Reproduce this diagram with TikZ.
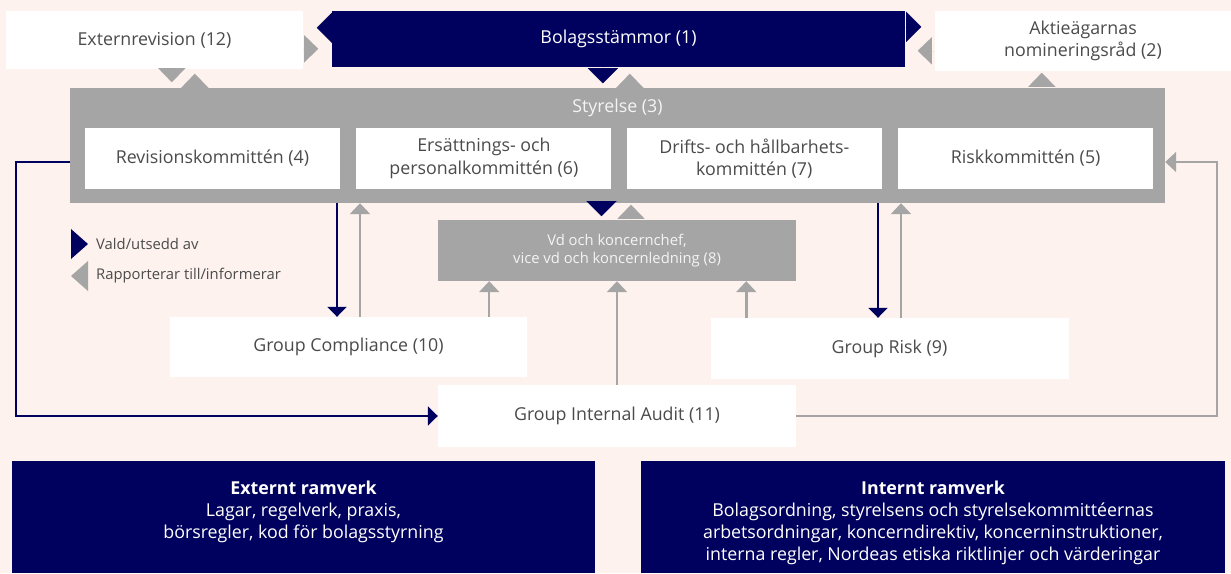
\documentclass[tikz,border=0pt]{standalone}
\usepackage{fontspec}
\setmainfont{Open Sans}
\usetikzlibrary{arrows.meta, positioning, backgrounds}
\definecolor{marin}{HTML}{00005E}
\definecolor{gra}{HTML}{A5A5A5}
\definecolor{bakgrund}{HTML}{FDF2ED}
\definecolor{textgra}{HTML}{4B4B4B}
\definecolor{ljus}{HTML}{F4F4F4}
\tikzset{
  ruta/.style={rectangle, fill=white, text=textgra, inner sep=0pt, align=center,
    font=\fontsize{17.8}{22.5}\selectfont},
  rutamork/.style={ruta, fill=marin, text=white},
  rutagra/.style={ruta, fill=gra, text=ljus},
  kommitte/.style={ruta, minimum width=255, minimum height=61},
  stylabel/.style={anchor=center, yshift=-20, text=ljus, inner sep=0pt,
    font=\fontsize{17.8}{22.5}\selectfont},
  ramtext/.style={anchor=north, yshift=-20, text=white, inner sep=0pt,
    align=center, font=\fontsize{17.8}{22}\selectfont},
  forklaring/.style={text=textgra, inner sep=0pt, font=\fontsize{14.8}{18}\selectfont},
  valdpil/.style={draw=marin, line width=2, -{Triangle[length=10, width=19]}},
  rappil/.style={draw=gra, line width=2.5, -{Triangle[length=11, width=20]}},
  valdspets/.style={draw=marin, line width=0.01, -{Triangle[length=15, width=30]}},
  rapspets/.style={draw=gra, line width=0.01, -{Triangle[length=14, width=27]}},
}
\begin{document}
\begin{tikzpicture}[x=1pt, y=-1pt]
  \useasboundingbox (0,0) rectangle (1231,573);
  \fill[bakgrund] (0,0) rectangle (1231,573);

  % översta raden
  \node[ruta, minimum width=297, minimum height=58] (extern) at (154.5,40) {Externrevision (12)};
  \node[rutamork, minimum width=573, minimum height=56] (bolag) at (618.5,39) {Bolagsstämmor (1)};
  \node[ruta, minimum width=296, minimum height=60] (nomin) at (1083,41) {Aktieägarnas\\nomineringsråd (2)};

  % styrelsen med utskotten
  \node[rutagra, minimum width=1095, minimum height=115,
        label={[stylabel]north:Styrelse (3)}] (styrelse) at (617.5,145.5) {};
  \node[kommitte] (revision) at (212.5,158.5) {Revisionskommittén (4)};
  \node[kommitte, right=16pt of revision] (ersatt) {Ersättnings- och\\personalkommittén (6)};
  \node[kommitte, right=15pt of ersatt] (drift) {Drifts- och hållbarhets-\\kommittén (7)};
  \node[kommitte, right=16pt of drift] (risk) {Riskkommittén (5)};

  \node[rutagra, font=\fontsize{14.8}{18}\selectfont, minimum width=358, minimum height=61]
    (vd) at (617,250.5) {Vd och koncernchef,\\vice vd och koncernledning (8)};
  \node[ruta, minimum width=357, minimum height=60] (compliance) at (348.5,347) {Group Compliance (10)};
  \node[ruta, minimum width=358, minimum height=61] (grouprisk) at (889.5,348.5) {Group Risk (9)};
  \node[ruta, minimum width=358, minimum height=62] (audit) at (617,416) {Group Internal Audit (11)};

  % ramverk
  \node[rutamork, minimum width=583, minimum height=112,
        label={[ramtext]north:{\textbf{Externt ramverk}\\Lagar, regelverk, praxis,\\börsregler, kod för bolagsstyrning}}]
    (externt) at (303.5,517) {};
  \node[rutamork, minimum width=584, minimum height=112,
        label={[ramtext]north:{\textbf{Internt ramverk}\\Bolagsordning, styrelsens och styrelsekommittéernas\\arbetsordningar, koncerndirektiv, koncerninstruktioner,\\interna regler, Nordeas etiska riktlinjer och värderingar}}]
    (internt) at (933,517) {};

  % förklaring
  \node[forklaring, anchor=west] (legvald) at (96,244) {Vald/utsedd av};
  \node[forklaring, anchor=west] (legrap) at (96,276) {Rapporterar till/informerar};
  \fill[marin] ([xshift=-8]legvald.west) -- ++(-17,-15) -- ++(0,30) -- cycle;
  \fill[gra] ([xshift=-25]legrap.west) -- ++(17,-15) -- ++(0,30) -- cycle;

  % spetsar mellan rutorna
  \draw[valdspets] ([yshift=-17]bolag.north west) -- ++(-15,0);
  \draw[rapspets] ([yshift=-38]extern.north east) -- ++(15,0);
  \draw[valdspets] ([yshift=-16]bolag.north east) -- ++(16,0);
  \draw[rapspets] ([yshift=-40]nomin.north west) -- ++(-17,0);
  \draw[rapspets] ([xshift=166]extern.south west) -- ++(0,13);
  \draw[rapspets] ([xshift=125]styrelse.north west) -- ++(0,-14);
  \draw[valdspets] ([xshift=271]bolag.south west) -- ++(0,16);
  \draw[rapspets] ([xshift=560]styrelse.north west) -- ++(0,-14);
  \draw[rapspets] ([xshift=972]styrelse.north west) -- ++(0,-15);
  \draw[valdspets] ([xshift=-16]styrelse.south) -- ++(0,13);
  \draw[rapspets] ([xshift=14]vd.north) -- ++(0,-15);

  % pilar
  \draw[valdpil] ([xshift=-11.5]compliance.north |- styrelse.south) -- ([xshift=-11.5]compliance.north);
  \draw[rappil] ([xshift=11.5]compliance.north) -- ([xshift=11.5]compliance.north |- styrelse.south);
  \draw[rappil] ([xshift=-38]compliance.north east) -- ([xshift=-38]compliance.north east |- vd.south);
  \draw[rappil] (audit.north) -- (vd.south);
  \draw[rappil] ([xshift=36]grouprisk.north west) -- ([xshift=36]grouprisk.north west |- vd.south);
  \draw[valdpil] ([xshift=-11.5]grouprisk.north |- styrelse.south) -- ([xshift=-11.5]grouprisk.north);
  \draw[rappil] ([xshift=11.5]grouprisk.north) -- ([xshift=11.5]grouprisk.north |- styrelse.south);
  \draw[valdpil] ([yshift=-16.5]styrelse.west) -- ++(-54,0) |- (audit.west);
  \draw[rappil, line width=2] (audit.east) -- ++(421,0) |- ([yshift=-16.5]styrelse.east);
\end{tikzpicture}
\end{document}
